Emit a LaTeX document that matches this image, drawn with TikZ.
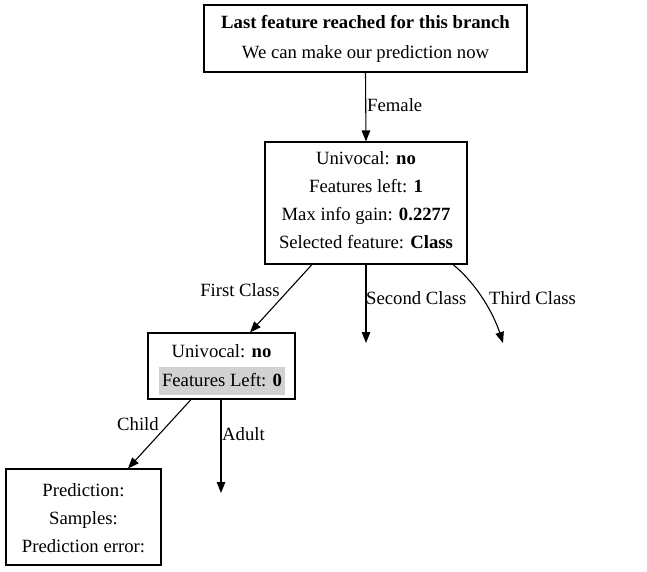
\documentclass[tikz,border=0pt]{standalone}
\usepackage{fontspec}
\setmainfont{Liberation Serif}
\usetikzlibrary{arrows.meta}
\begin{document}
\begin{tikzpicture}[x=1pt,y=-1pt,
  box/.style={draw,line width=1.1pt,inner sep=0pt},
  txt/.style={font=\fontsize{18.7}{21}\selectfont,text height=15pt,text depth=3pt,inner sep=0pt},
  edge/.style={line width=1.1pt,-{Triangle[length=11pt,width=8.5pt]}},
  lbl/.style={font=\fontsize{18.7}{21}\selectfont,inner sep=0pt,text height=15pt,text depth=3pt}]
\useasboundingbox (0,0) rectangle (647,571);
% boxes
\node[box,minimum width=323pt,minimum height=67pt] (top) at (365.5,38.5) {};
\node[txt] (t1) at (365.5,22) {\textbf{Last feature reached for this branch}};
\node[txt] (t2) at (365.5,52) {We can make our prediction now};

\node[box,minimum width=202pt,minimum height=122pt] (mid) at (366,203) {};
\node[txt] (m1) at (366,158) {Univocal: \textbf{no}};
\node[txt] (m2) at (366,186) {Features left: \textbf{1}};
\node[txt] (m3) at (366,214) {Max info gain: \textbf{0.2277}};
\node[txt] (m4) at (366,242) {Selected feature: \textbf{Class}};

\node[box,minimum width=147pt,minimum height=66pt] (small) at (221.5,366) {};
\node[txt] (s1) at (221.5,351) {Univocal: \textbf{no}};
\node[fill=black!18,minimum width=126pt,minimum height=28pt,inner sep=0pt] (gray) at (222,381) {};
\node[txt] (s2) at (222,380) {Features Left: \textbf{0}};

\node[box,minimum width=155pt,minimum height=96pt] (pred) at (83.5,517) {};
\node[txt] (p1) at (83.5,490) {Prediction:};
\node[txt] (p2) at (83.5,518) {Samples:};
\node[txt] (p3) at (83.5,546) {Prediction error:};

% dangling ends
\coordinate (second) at (366,343);
\coordinate (third) at (503,343);
\coordinate (adult) at (221,493);

% edges
\draw[edge] (top.south) -- (mid.north);
\node[lbl,anchor=west] (lfemale) at (367,105) {Female};

\draw[edge] ([xshift=-54pt]mid.south) -- ([xshift=28.5pt]small.north);
\node[lbl] (lfirst) at (240,290) {First Class};

\draw[edge] (mid.south) -- (second);
\node[lbl,anchor=west] (lsecond) at (366,298) {Second Class};

\draw[edge] ([xshift=87pt]mid.south) .. controls (478,285) and (494,315) .. (third);
\node[lbl,anchor=west] (lthird) at (489,298) {Third Class};

\draw[edge] ([xshift=-30.5pt]small.south) -- ([xshift=44.5pt]pred.north);
\node[lbl] (lchild) at (138,424) {Child};

\draw[edge] ([xshift=-0.5pt]small.south) -- (adult);
\node[lbl,anchor=west] (ladult) at (222,434) {Adult};
\end{tikzpicture}
\end{document}
